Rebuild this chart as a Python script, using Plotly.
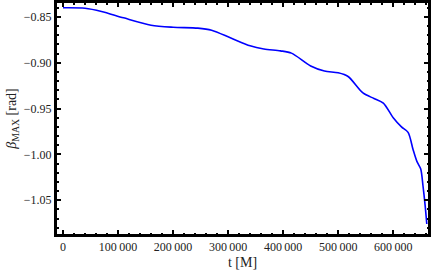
import plotly.graph_objects as go

t_M = [0, 40000, 70000, 110000, 160000, 200000, 245000, 270000, 305000, 340000,
       365000, 395000, 415000, 450000, 475000, 500000, 518000, 545000, 565000,
       582000, 600000, 615000, 627000, 636000, 643000, 650000, 654000, 658000, 661000]
beta_max = [-0.8400, -0.8405, -0.8440, -0.8510, -0.8590, -0.8612, -0.8622, -0.8645,
            -0.8730, -0.8815, -0.8850, -0.8870, -0.8895, -0.9035, -0.9090, -0.9110,
            -0.9150, -0.9330, -0.9390, -0.9440, -0.9600, -0.9700, -0.9760, -0.9946,
            -1.0076, -1.0160, -1.0340, -1.0560, -1.0760]

x_ticks = [0, 100000, 200000, 300000, 400000, 500000, 600000]
x_ticklabels = ["0", "100\u2009000", "200\u2009000", "300\u2009000", "400\u2009000",
                "500\u2009000", "600\u2009000"]
x_minor = list(range(0, 665000, 20000))
y_ticks = [-0.85, -0.90, -0.95, -1.00, -1.05]
y_ticklabels = ["\u22120.85", "\u22120.90", "\u22120.95", "\u22121.00", "\u22121.05"]
y_minor = [round(-1.08 + 0.01 * i, 2) for i in range(25)]

x_range = [-12700, 665000]
y_range = [-1.088, -0.8337]

fig = go.Figure()
fig.add_trace(go.Scatter(x=t_M, y=beta_max, mode="lines",
                         line=dict(color="#0000ff", width=1.6, shape="spline", smoothing=0.8),
                         showlegend=False, hoverinfo="skip"))
for k in (2, 3, 4):
    fig.add_trace(go.Scatter(x=[None], y=[None], xaxis=f"x{k}", yaxis=f"y{k}", mode="lines",
                             showlegend=False, hoverinfo="skip"))


def tick_axis(rng, side, vals, length, overlay, anchor):
    return dict(range=rng, overlaying=overlay, anchor=anchor, side=side,
                tickmode="array", tickvals=vals, showticklabels=False,
                showline=False, ticks="inside", ticklen=length, tickwidth=1.5,
                tickcolor="black", showgrid=False, zeroline=False)


fig.update_layout(
    template="none", width=436, height=271, margin=dict(l=56, r=7, t=2, b=36),
    font=dict(family="Liberation Serif, Times New Roman, serif", size=12, color="#222222"),
    xaxis=dict(range=x_range, tickmode="array", tickvals=x_ticks, ticktext=x_ticklabels,
               showline=True, linecolor="black", linewidth=2, mirror=True,
               ticks="inside", ticklen=5, tickwidth=1.5, tickcolor="black",
               showgrid=False, zeroline=False,
               title=dict(text="t [M]", standoff=4)),
    yaxis=dict(range=y_range, tickmode="array", tickvals=y_ticks, ticktext=y_ticklabels,
               showline=True, linecolor="black", linewidth=2, mirror=True,
               ticks="inside", ticklen=5, tickwidth=1.5, tickcolor="black",
               showgrid=False, zeroline=False,
               title=dict(text="<i>β</i><sub>MAX</sub> [rad]", standoff=4)),
    xaxis2=tick_axis(x_range, "top", x_ticks, 5, "x", "y"),
    yaxis2=tick_axis(y_range, "right", y_ticks, 5, "y", "x"),
    xaxis3=tick_axis(x_range, "bottom", x_minor, 2.5, "x", "y"),
    yaxis3=tick_axis(y_range, "left", y_minor, 2.5, "y", "x"),
    xaxis4=tick_axis(x_range, "top", x_minor, 2.5, "x", "y"),
    yaxis4=tick_axis(y_range, "right", y_minor, 2.5, "y", "x"),
    shapes=[dict(type="rect", xref="paper", yref="paper", x0=0, x1=1, y0=0, y1=1,
                 line=dict(color="black", width=2), layer="above")],
)
fig.write_html("out.html", config={"displayModeBar": False},
               post_script="document.body.style.margin='0';")
